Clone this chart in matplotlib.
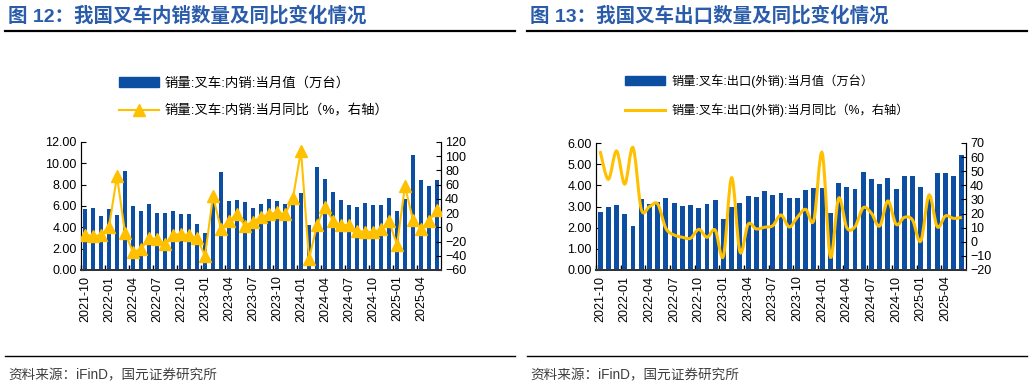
import numpy as np
import pandas as pd
import matplotlib
matplotlib.use('Agg')
import matplotlib.pyplot as plt
from matplotlib.path import Path
from matplotlib.patches import PathPatch, Patch
from matplotlib.lines import Line2D
from matplotlib.ticker import FormatStrFormatter

plt.rcParams['font.family'] = ['Liberation Sans', 'Noto Sans CJK SC', 'DejaVu Sans']

# months 2021-10 .. 2025-06
months = pd.period_range('2021-10', '2025-06', freq='M').strftime('%Y-%m').tolist()

# 图12 内销
domestic_qty = [5.75, 5.80, 5.05, 5.72, 5.12, 9.28, 5.97, 5.50, 6.19, 5.34,
                5.34, 5.56, 5.25, 5.22, 4.31, 3.44, 6.60, 9.15, 6.50, 6.59,
                6.34, 5.78, 6.17, 6.65, 6.44, 6.22, 6.12, 7.25, 4.22, 9.65,
                8.50, 7.28, 6.59, 6.09, 5.94, 6.28, 6.06, 6.06, 6.75, 5.53,
                6.65, 10.80, 8.43, 7.90, 8.40]
domestic_yoy = [-10.1, -12.4, -11.0, 1.0, 72.0, -7.7, -35.0, -30.5, -14.5, -16.7,
                -23.0, -10.3, -9.6, -11.0, -15.0, -40.0, 43.8, -2.3, 9.4, 18.7,
                2.1, 8.2, 14.2, 18.3, 21.1, 18.3, 41.5, 108.0, -44.8, 3.5,
                28.8, 9.1, 3.3, 3.5, -5.4, -6.1, -6.8, -2.8, 9.1, -24.6,
                57.9, 10.3, -1.9, 9.1, 25.0]

# 图13 出口
export_qty = [2.72, 3.00, 3.08, 2.64, 2.06, 3.35, 3.13, 3.19, 3.40, 3.16,
              3.03, 3.07, 2.94, 3.11, 3.33, 2.39, 2.99, 3.16, 3.50, 3.46,
              3.73, 3.54, 3.62, 3.38, 3.39, 3.80, 3.87, 3.87, 2.69, 4.10,
              3.92, 3.82, 4.61, 4.29, 4.04, 4.35, 3.82, 4.43, 4.42, 3.90,
              3.36, 4.56, 4.59, 4.45, 5.41]
export_yoy = [64.3, 44.3, 64.3, 40.9, 66.7, 23.2, 24.9, 26.8, 9.5, 4.8,
              3.2, 2.5, 8.8, 3.2, 8.3, -10.1, 45.4, -7.0, 12.4, 9.1,
              10.3, 11.4, 19.0, 10.5, 17.5, 23.0, 15.4, 63.1, -10.6, 30.8,
              10.0, 10.7, 24.1, 20.2, 11.2, 28.9, 12.4, 17.3, 15.4, 0.5,
              33.1, 10.7, 18.3, 16.6, 17.3]

BLUE = '#0b4ea2'
GOLD = '#ffc000'
TITLE_BLUE = '#2a5caa'
W, H = 1032, 386

fig = plt.figure(figsize=(W / 100, H / 100), dpi=100)


def smooth_path(xs, ys):
    # Catmull-Rom style bezier, like Excel's smoothed line
    n = len(xs)
    verts = [(xs[0], ys[0])]
    codes = [Path.MOVETO]
    for i in range(n - 1):
        a = i - 1 if i > 0 else i
        d = i + 2 if i + 2 < n else i + 1
        c1 = (xs[i] + (xs[i + 1] - xs[a]) / 6, ys[i] + (ys[i + 1] - ys[a]) / 6)
        c2 = (xs[i + 1] - (xs[d] - xs[i]) / 6, ys[i + 1] - (ys[d] - ys[i]) / 6)
        verts += [c1, c2, (xs[i + 1], ys[i + 1])]
        codes += [Path.CURVE4] * 3
    return Path(verts, codes)


def setup(ax, axr, ylim, yticks, fmt, rlim, rticks):
    x = np.arange(len(months))
    ax.set_xlim(-0.5, len(months) - 0.5)
    ax.set_ylim(*ylim)
    ax.set_yticks(yticks)
    ax.yaxis.set_major_formatter(FormatStrFormatter(fmt))
    axr.set_ylim(*rlim)
    axr.set_yticks(rticks)
    ax.set_xticks(x[::3])
    ax.set_xticklabels(months[::3], rotation=90)
    ax.set_xticks(x[::3] - 0.5, minor=True)
    ax.tick_params(axis='x', which='major', length=0, labelsize=9, pad=4)
    ax.tick_params(axis='x', which='minor', direction='in', length=3.5, width=1)
    ax.tick_params(axis='y', direction='in', length=3.5, labelsize=9, pad=3)
    axr.tick_params(axis='y', direction='in', length=3.5, labelsize=9, pad=3)
    for a in (ax, axr):
        a.spines['top'].set_visible(False)
        a.spines['left'].set_color('black')
        a.spines['right'].set_color('black')
        a.spines['bottom'].set_color('#333333')
        a.spines['bottom'].set_linewidth(1.4)


# ---------- left panel ----------
x = np.arange(len(months))
ax1 = fig.add_axes([81 / W, 1 - 270 / H, 360 / W, 128 / H])
ax1.bar(x, domestic_qty, width=0.6, color=BLUE, zorder=2)
ax1r = ax1.twinx()
ax1r.plot(x, domestic_yoy, color=GOLD, lw=1.5, marker='^', ms=8.5, zorder=3)
setup(ax1, ax1r, (0, 12), np.arange(0, 12.1, 2), '%.2f', (-60, 120), np.arange(-60, 121, 20))

fig.legend(handles=[Patch(color=BLUE), Line2D([], [], color=GOLD, lw=1.5, marker='^', ms=8)],
           labels=['销量:叉车:内销:当月值（万台）', '销量:叉车:内销:当月同比（%，右轴）'],
           loc='upper left', bbox_to_anchor=(119 / W, 1 - 77 / H), frameon=False,
           fontsize=9.6, handlelength=3.0, labelspacing=1.1, handletextpad=0.4,
           borderaxespad=0, borderpad=0)

# ---------- right panel ----------
ax2 = fig.add_axes([596 / W, 1 - 270 / H, 370 / W, 127 / H])
ax2.bar(x, export_qty, width=0.6, color=BLUE, zorder=2)
ax2r = ax2.twinx()
ax2r.add_patch(PathPatch(smooth_path(x, export_yoy), facecolor='none', edgecolor=GOLD, lw=2.2, zorder=3))
setup(ax2, ax2r, (0, 6), np.arange(0, 6.1, 1), '%.2f', (-20, 70), np.arange(-20, 71, 10))

fig.legend(handles=[Patch(color=BLUE), Line2D([], [], color=GOLD, lw=2.2)],
           labels=['销量:叉车:出口(外销):当月值（万台）', '销量:叉车:出口(外销):当月同比（%，右轴）'],
           loc='upper left', bbox_to_anchor=(625 / W, 1 - 74 / H), frameon=False,
           fontsize=8.8, handlelength=3.3, labelspacing=1.3, handletextpad=0.5,
           borderaxespad=0, borderpad=0)

# ---------- titles, rules, source ----------
for x0, num, name in [(8, '12', '我国叉车内销数量及同比变化情况'), (530, '13', '我国叉车出口数量及同比变化情况')]:
    fig.text(x0 / W, 1 - 16 / H, f'图 {num}：{name}', color=TITLE_BLUE, fontsize=14,
             fontweight='bold', va='center', ha='left')
    fig.text(x0 / W, 1 - 375 / H, '资料来源：iFinD，国元证券研究所', color='#404040',
             fontsize=9.8, va='center', ha='left')

for x0, x1 in [(5, 515), (527, 1027)]:
    fig.add_artist(Line2D([x0 / W, x1 / W], [1 - 31 / H] * 2, color='black', lw=1.6))
    fig.add_artist(Line2D([x0 / W, x1 / W], [1 - 356 / H] * 2, color='black', lw=1.0))

fig.savefig('out.png', dpi=100)
